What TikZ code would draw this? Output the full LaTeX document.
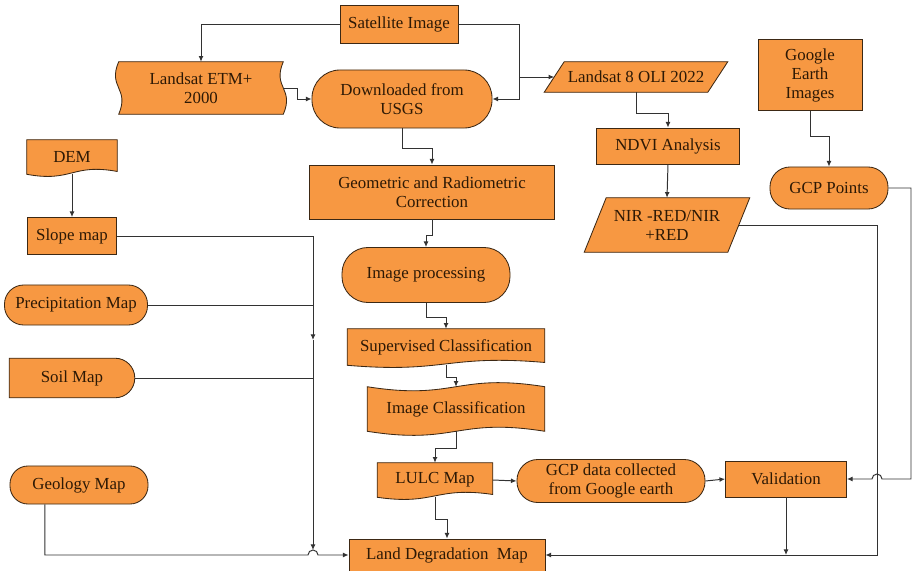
\documentclass[tikz,border=0pt]{standalone}
\usepackage{fontspec}
\setmainfont{Liberation Serif}
\usetikzlibrary{arrows.meta,backgrounds}
\definecolor{orfill}{RGB}{247,152,66}
\definecolor{edge}{RGB}{60,40,20}
\definecolor{txt}{RGB}{45,25,5}
\definecolor{wirec}{RGB}{50,50,50}
\begin{document}
\begin{tikzpicture}[x=0.025cm,y=-0.025cm,
  box/.style={draw=edge,fill=orfill,text=txt,align=center,inner sep=1pt,line width=0.6pt,font=\fontsize{12}{13.5}\selectfont},
  pill/.style={box,rounded corners=#1},
  bare/.style={text=txt,align=center,inner sep=1pt,font=\fontsize{12}{13.5}\selectfont},
  outline/.style={draw=edge,fill=orfill,line width=0.6pt},
  wire/.style={draw=wirec,line width=0.7pt},
  arr/.style={wire,-{Latex[length=4pt,width=3.5pt]}}]
\useasboundingbox (0,0) rectangle (916,571);

\node[box,minimum width=2.95cm,minimum height=0.95cm] (sat) at (399,24) {Satellite Image};
\node[bare,minimum width=4.1cm,minimum height=1.3cm] (etm) at (201,88) {Landsat ETM+\\2000};
\node[pill=0.7cm,minimum width=4.5cm,minimum height=1.45cm] (usgs) at (402,99) {Downloaded from\\USGS};
\node[bare,minimum width=4.575cm,minimum height=0.75cm] (l8) at (636,77) {Landsat 8 OLI 2022};
\node[box,minimum width=2.6cm,minimum height=1.775cm] (gee) at (810,75) {Google\\Earth\\Images};
\node[box,minimum width=3.575cm,minimum height=0.9cm] (ndvi) at (668,146) {NDVI Analysis};
\node[pill=0.5cm,minimum width=2.95cm,minimum height=1.05cm] (gcpp) at (829,188) {GCP Points};
\node[bare,minimum width=4.125cm,minimum height=1.35cm] (nir) at (667,225) {NIR -RED/NIR\\+RED};
\node[bare,minimum width=2.25cm,minimum height=0.85cm] (dem) at (72,157) {DEM};
\node[box,minimum width=2.225cm,minimum height=0.925cm] (slope) at (72,236) {Slope map};
\node[box,minimum width=6.125cm,minimum height=1.35cm] (geo) at (432,192) {Geometric and Radiometric\\Correction};
\node[pill=0.65cm,minimum width=4.2cm,minimum height=1.375cm] (imgp) at (426,275) {Image processing};
\node[pill=0.48cm,minimum width=3.575cm,minimum height=1cm] (prec) at (76,305) {Precipitation Map};
\node[bare,minimum width=4.925cm,minimum height=0.9cm] (sup) at (446,347) {Supervised Classification};
\node[bare,minimum width=3.125cm,minimum height=0.975cm] (soil) at (72,378) {Soil Map};
\node[bare,minimum width=4.425cm,minimum height=1.1cm] (imgc) at (456,409) {Image Classification};
\node[pill=0.45cm,minimum width=3.45cm,minimum height=0.95cm] (geol) at (79,485) {Geology Map};
\node[bare,minimum width=2.875cm,minimum height=0.85cm] (lulc) at (435,480) {LULC Map};
\node[pill=0.52cm,minimum width=4.7cm,minimum height=1.075cm] (gcpd) at (611,481) {GCP data collected\\from Google earth};
\node[box,minimum width=3.025cm,minimum height=0.9cm] (val) at (786,479) {Validation};
\node[box,minimum width=4.9cm,minimum height=0.8cm] (ldm) at (447,555) {Land Degradation~ Map};

% outlines of the odd shapes
\begin{scope}[on background layer]
\foreach \n in {dem,sup,lulc}
  \path[outline] (\n.north west) -- (\n.north east) -- ([yshift=2pt]\n.south east)
    .. controls ([yshift=8pt]\n.south) and ([yshift=-6pt]\n.south) .. (\n.south west) -- cycle;
\foreach \n/\s in {l8/0.5cm,nir/0.55cm}
  \path[outline] (\n.south west) -- ([xshift=\s]\n.north west) -- (\n.north east) -- ([xshift=-\s]\n.south east) -- cycle;
\path[outline] (imgc.north west) .. controls ([yshift=-10pt]imgc.north) and ([yshift=10pt]imgc.north) .. (imgc.north east)
  -- (imgc.south east) .. controls ([yshift=10pt]imgc.south) and ([yshift=-10pt]imgc.south) .. (imgc.south west) -- cycle;
\path[outline] (etm.north west) -- (etm.north east) .. controls ([xshift=-8pt]etm.east) and ([xshift=8pt]etm.east) .. (etm.south east)
  -- (etm.south west) .. controls ([xshift=8pt]etm.west) and ([xshift=-8pt]etm.west) .. (etm.north west) -- cycle;
\path[outline] (soil.south west) -- (soil.north west) -- ([xshift=-14pt]soil.north east) to[out=0,in=90] (soil.east)
  to[out=-90,in=0] ([xshift=-14pt]soil.south east) -- cycle;
\end{scope}

\coordinate (split) at (519,77);
\coordinate (mid) at (313,340);
\coordinate (jn) at (313,550);
\coordinate (rb) at (877,555);
\coordinate (rt) at (911,479);

% main chain
\draw[arr] (sat.west) -| (etm.north);
\draw[arr] (sat.east) -| (split) -- ([xshift=0.25cm]l8.west);
\draw[arr] (split) |- (usgs.east);
\draw[arr] (etm.east) -- ++(14,0) |- (usgs.west);
\draw[arr] (usgs.south) -- ++(0,20) -| (geo.north);
\draw[arr] (geo.south) -- ++(0,16) -| (imgp.north);
\draw[arr] (imgp.south) -- ++(0,15) -| (sup.north);
\draw[arr] (sup.south) -- ++(0,12) -| (imgc.north);
\draw[arr] (imgc.south) -- ++(0,17) -| (lulc.north);
\draw[arr] (lulc.south) -- ++(0,22) -| (ldm.north);
\draw[arr] (lulc.east) -- (gcpd.west);
\draw[arr] (gcpd.east) -- (val.west);

% right side
\draw[arr] (l8.south) -- ++(0,21) -| (ndvi.north);
\draw[arr] (ndvi.south) -- (nir.north);
\draw[arr] (gee.south) -- ++(0,26) -| (gcpp.north);
\draw[arr] (gcpp.east) -| (rt) -- ([xshift=0.125cm]rb |- rt) arc[start angle=0,end angle=180,radius=0.125cm] -- (val.east);
\draw[arr] ([xshift=-0.275cm]nir.east) -| (rb) -- (ldm.east);
\draw[arr] (val.south) -- (val.south |- rb);

% left side
\draw[arr] (dem.south) -- (slope.north);
\draw[arr] (slope.east) -| (mid);
\draw[arr] (mid) -- (jn);
\draw[wire] (prec.east) -- (prec.east -| mid);
\draw[wire] (soil.east) -- (soil.east -| mid);
\draw[arr] ([xshift=-0.85cm]geol.south) |- ([xshift=-0.125cm]jn |- ldm.west) arc[start angle=180,end angle=0,radius=0.125cm] -- (ldm.west);
\end{tikzpicture}
\end{document}
